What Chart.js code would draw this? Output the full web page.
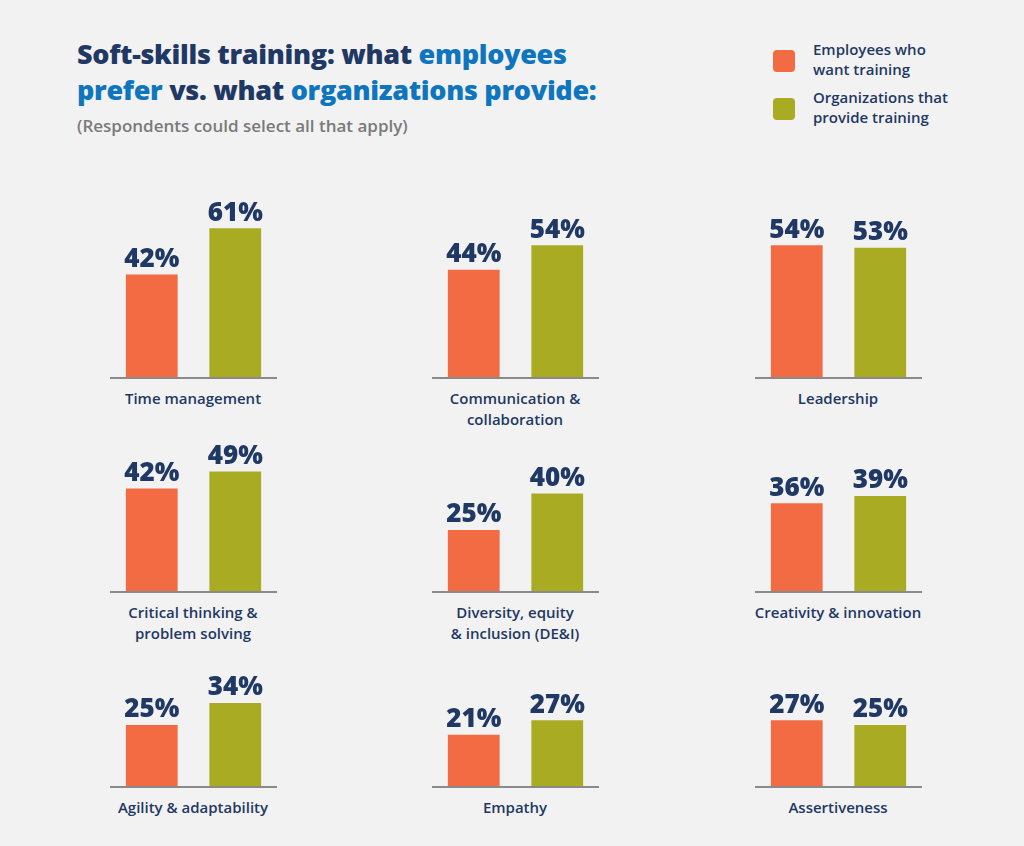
<!DOCTYPE html>
<html><head><meta charset="utf-8">
<script src="https://cdn.jsdelivr.net/npm/chart.js@4"></script>
<style>
body{margin:0;width:1024px;height:846px;background:#f2f2f2;font-family:"Open Sans",sans-serif;position:relative;overflow:hidden}
.t{position:absolute;left:77px;top:36px;font-size:27px;font-weight:800;color:#1f3864;line-height:36px;letter-spacing:-0.3px}
.t b{color:#0f75bc}
.s{position:absolute;left:77px;top:114px;font-size:17px;font-weight:600;color:#7a7a7a}
.lg{position:absolute;left:773px;width:22px;height:22px;border-radius:4px}
.lt{position:absolute;left:813px;font-size:15px;font-weight:600;color:#1f3864;line-height:20px}
.cv{position:absolute;width:167px;height:200px}
.base{position:absolute;width:167px;height:2px;background:#8a8a8a}
.cat{position:absolute;width:240px;text-align:center;font-size:15px;font-weight:600;color:#1f3864;line-height:21px}
</style></head><body>
<div class="t">Soft-skills training: what <b>employees</b><br><b>prefer</b> vs. what <b>organizations provide:</b></div>
<div class="s">(Respondents could select all that apply)</div>
<div class="lg" style="top:50px;background:#f26b43"></div>
<div class="lt" style="top:39px">Employees who<br>want training</div>
<div class="lg" style="top:98px;background:#a9ac22"></div>
<div class="lt" style="top:87px">Organizations that<br>provide training</div>
<script>
const categories = ["Time management", "Communication &\ncollaboration", "Leadership",
  "Critical thinking &\nproblem solving", "Diversity, equity\n& inclusion (DE&I)", "Creativity & innovation",
  "Agility & adaptability", "Empathy", "Assertiveness"];
const wantTraining = [42, 44, 54, 42, 25, 36, 25, 21, 27];
const provideTraining = [61, 54, 53, 49, 40, 39, 34, 27, 25];
const series = ["Employees who want training", "Organizations that provide training"];

const colLeft = [110, 432, 755];
const rowBase = [377, 591, 786];

const valueLabels = {
  id: 'valueLabels',
  afterDatasetsDraw(chart) {
    const ctx = chart.ctx;
    ctx.save();
    ctx.font = '800 26px "Open Sans"';
    ctx.fillStyle = '#1f3864';
    ctx.textAlign = 'center';
    ctx.textBaseline = 'bottom';
    chart.data.datasets.forEach((ds, i) => {
      chart.getDatasetMeta(i).data.forEach((bar, j) => {
        if (ds.data[j] != null) ctx.fillText(ds.data[j] + '%', bar.x, bar.y - 2);
      });
    });
    ctx.restore();
  }
};

categories.forEach((cat, k) => {
  const left = colLeft[k % 3], base = rowBase[Math.floor(k / 3)];
  const c = document.createElement('canvas');
  c.className = 'cv';
  c.width = 167;
  c.height = 200;
  c.style.left = left + 'px';
  c.style.top = (base - 200) + 'px';
  document.body.appendChild(c);
  const b = document.createElement('div');
  b.className = 'base';
  b.style.left = left + 'px';
  b.style.top = base + 'px';
  document.body.appendChild(b);
  const l = document.createElement('div');
  l.className = 'cat';
  l.style.left = (left + 83 - 120) + 'px';
  l.style.top = (base + 11) + 'px';
  l.innerText = cat;
  document.body.appendChild(l);
  new Chart(c, {
    type: 'bar',
    data: {
      labels: series,
      datasets: [{
        data: [wantTraining[k], null], backgroundColor: '#f26b43'
      }, {
        data: [null, provideTraining[k]], backgroundColor: '#a9ac22'
      }]
    },
    options: {
      responsive: false, animation: false, devicePixelRatio: 1,
      layout: { padding: 0 },
      datasets: { bar: { barPercentage: 0.62, categoryPercentage: 1, grouped: false } },
      scales: {
        x: { display: false },
        y: { display: false, min: 0, max: 82 }
      },
      plugins: { legend: { display: false }, tooltip: { enabled: false } }
    },
    plugins: [valueLabels]
  });
});
</script>
</body></html>
